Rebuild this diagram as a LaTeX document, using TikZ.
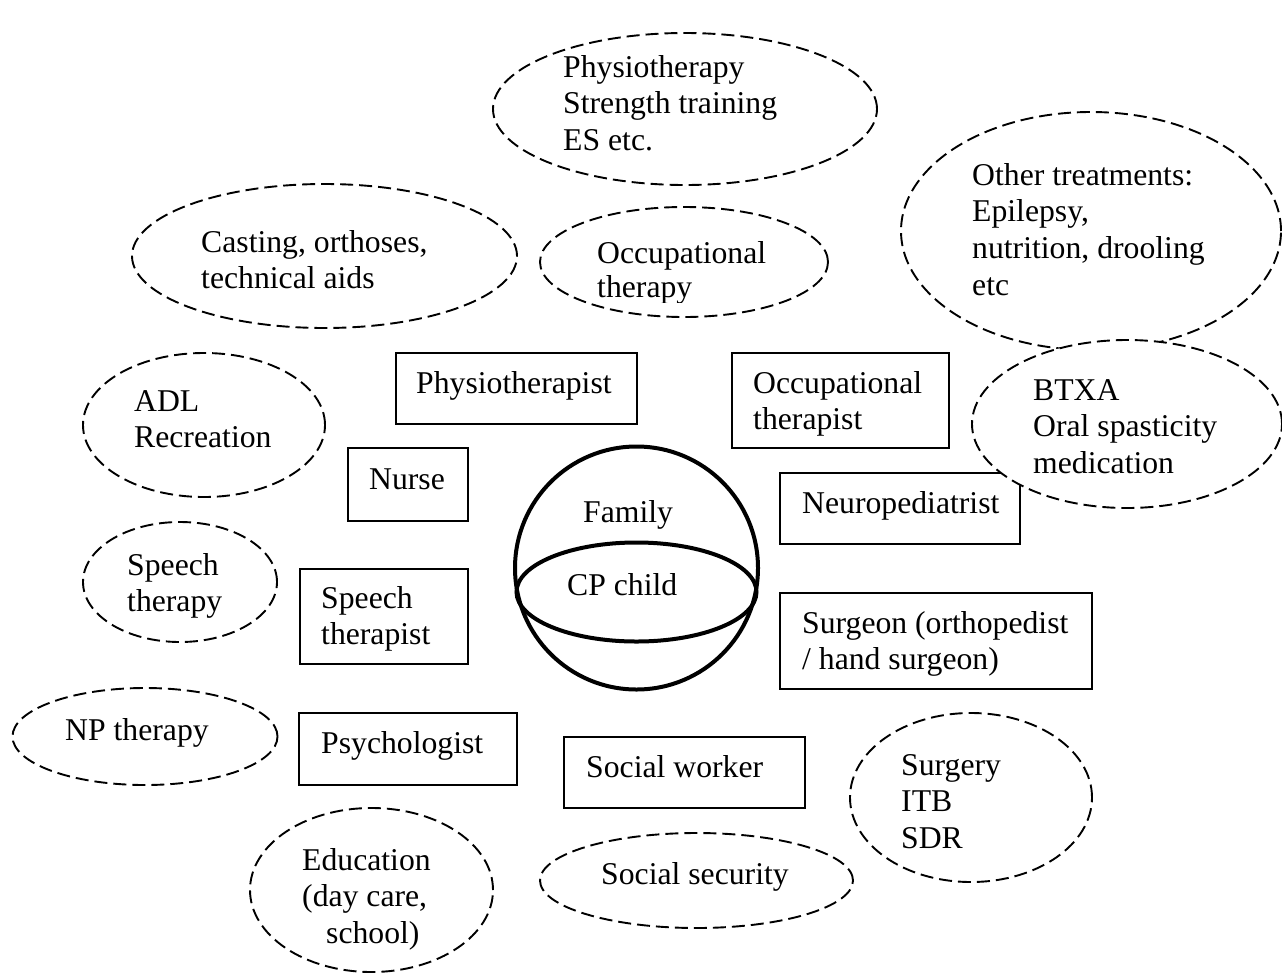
\documentclass[tikz,border=0pt]{standalone}
\usepackage{fontspec}
\setmainfont{Liberation Serif}
\usetikzlibrary{shapes.geometric}
\tikzset{
  dashell/.style={ellipse, draw, fill=white, line width=1.9pt, dash pattern=on 13pt off 6pt, inner sep=0pt},
  rolebox/.style={rectangle, draw, fill=white, line width=2pt, inner sep=0pt},
  heavy/.style={draw, line width=4pt, inner sep=0pt},
  txt/.style={anchor=base west, inner sep=0pt, font=\fontsize{31.7}{36.7}\selectfont}
}
\begin{document}
\begin{tikzpicture}[x=1pt,y=-1pt]
\useasboundingbox (0,0) rectangle (1282,975);
\clip (0,0) rectangle (1282,975);
% role boxes
\node[rolebox, minimum width=241pt, minimum height=71pt] (bphysio) at (516.5,388.5) {};
\node[rolebox, minimum width=217pt, minimum height=95pt] (bocc) at (840.5,400.5) {};
\node[rolebox, minimum width=120pt, minimum height=73pt] (bnurse) at (408,484.5) {};
\node[rolebox, minimum width=240pt, minimum height=71pt] (bneuro) at (900,508.5) {};
\node[rolebox, minimum width=168pt, minimum height=95pt] (bspeech) at (384,616.5) {};
\node[rolebox, minimum width=312pt, minimum height=96pt] (bsurgeon) at (936,641) {};
\node[rolebox, minimum width=218pt, minimum height=72pt] (bpsych) at (408,749) {};
\node[rolebox, minimum width=241pt, minimum height=71pt] (bsocial) at (684.5,772.5) {};
% sphere
\node[heavy, circle, minimum size=243pt] (sphere) at (636.5,568) {};
\node[heavy, ellipse, minimum width=240pt, minimum height=99pt] (child) at (636.5,592) {};
% dashed ellipses
\node[dashell, minimum width=384pt, minimum height=152pt] (ephysio) at (685,109) {};
\node[dashell, minimum width=385pt, minimum height=144pt] (ecast) at (324.5,256) {};
\node[dashell, minimum width=288pt, minimum height=110pt] (eocc) at (684,262) {};
\node[dashell, minimum width=380pt, minimum height=238pt] (eother) at (1091,231) {};
\node[dashell, minimum width=310pt, minimum height=168pt] (ebtxa) at (1127,424) {};
\node[dashell, minimum width=242pt, minimum height=144pt] (eadl) at (204,425) {};
\node[dashell, minimum width=194pt, minimum height=120pt] (espeech) at (180,582) {};
\node[dashell, minimum width=265pt, minimum height=97pt] (enp) at (145,736.5) {};
\node[dashell, minimum width=243pt, minimum height=164pt] (eedu) at (371.5,890) {};
\node[dashell, minimum width=313pt, minimum height=95pt] (esocsec) at (696.5,880.5) {};
\node[dashell, minimum width=242pt, minimum height=169pt] (esurgery) at (971,797.5) {};
% ellipse texts
\node[txt] (tphysio) at (563,77) {\vtop{\hbox{Physiotherapy}\hbox{Strength training}\hbox{ES etc.}}};
\node[txt] (tcast) at (201,252) {\vtop{\hbox{Casting, orthoses,}\hbox{technical aids}}};
\begin{scope}
\clip (540,200) rectangle (830,302);
\node[txt] (tocc) at (597,263) {\vtop{\baselineskip=34pt\hbox{Occupational}\hbox{therapy}}};
\end{scope}
\node[txt] (tother) at (972,185) {\vtop{\hbox{Other treatments:}\hbox{Epilepsy,}\hbox{nutrition, drooling}\hbox{etc}}};
\node[txt] (tbtxa) at (1033,400) {\vtop{\hbox{BTXA}\hbox{Oral spasticity}\hbox{medication}}};
\node[txt] (tadl) at (134,411) {\vtop{\hbox{ADL}\hbox{Recreation}}};
\node[txt] (tspeech) at (127,575) {\vtop{\hbox{Speech}\hbox{therapy}}};
\node[txt] (tnp) at (65,740) {NP therapy};
\node[txt] (tedu) at (302,870) {\vtop{\hbox{Education}\hbox{(day care,}\hbox{\hspace*{24pt}school)}}};
\node[txt] (tsocsec) at (601,884) {Social security};
\node[txt] (tsurgery) at (901,775) {\vtop{\hbox{Surgery}\hbox{ITB}\hbox{SDR}}};
% box texts
\node[txt] (lphysio) at (416,393) {Physiotherapist};
\node[txt] (locc) at (753,393) {\vtop{\hbox{Occupational}\hbox{therapist}}};
\node[txt] (lnurse) at (369,489) {Nurse};
\node[txt] (lneuro) at (802,513) {Neuropediatrist};
\node[txt] (lspeech) at (321,608) {\vtop{\hbox{Speech}\hbox{therapist}}};
\node[txt] (lsurgeon) at (802,633) {\vtop{\hbox{Surgeon (orthopedist}\hbox{/ hand surgeon)}}};
\node[txt] (lpsych) at (321,753) {Psychologist};
\node[txt] (lsocial) at (586,777) {Social worker};
\node[txt] (lfamily) at (583,522) {Family};
\node[txt] (lchild) at (567,595) {CP child};
\end{tikzpicture}
\end{document}
